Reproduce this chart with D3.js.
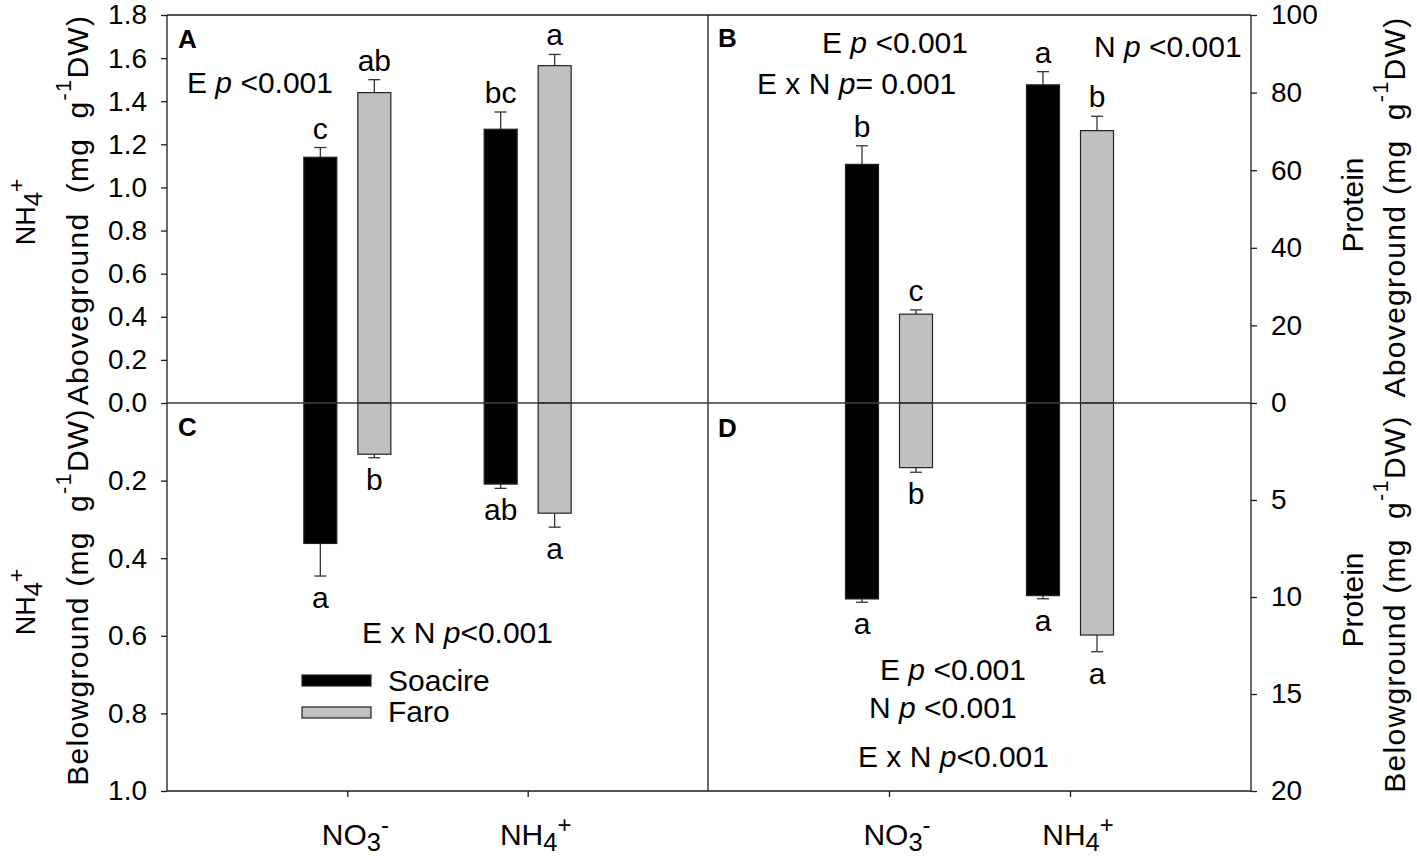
<!DOCTYPE html>
<html><head><meta charset="utf-8">
<script src="https://cdn.jsdelivr.net/npm/d3@7"></script>
<style>
body{margin:0;background:#fff}
svg{display:block;font-family:"Liberation Sans",Arial,Helvetica,sans-serif}
text{white-space:pre}
</style></head><body>
<svg id="chart" width="1417" height="856"></svg>
<script>
// ---------- DATA ----------
const categories = ["NO3-", "NH4+"];
const series = ["Soacire", "Faro"];

// Panel A: aboveground NH4+ (mg g-1 DW)
const A_Soacire = [1.14, 1.27];
const A_Faro = [1.44, 1.565];
const A_Soacire_se = [0.045, 0.08];
const A_Faro_se = [0.06, 0.052];
const A_Soacire_letters = ["c", "bc"];
const A_Faro_letters = ["ab", "a"];

// Panel C: belowground NH4+ (mg g-1 DW)
const C_Soacire = [0.362, 0.209];
const C_Faro = [0.132, 0.284];
const C_Soacire_se = [0.084, 0.011];
const C_Faro_se = [0.009, 0.036];
const C_Soacire_letters = ["a", "ab"];
const C_Faro_letters = ["b", "a"];

// Panel B: aboveground protein (mg g-1 DW)
const B_Soacire = [61.5, 82.0];
const B_Faro = [22.9, 70.2];
const B_Soacire_se = [4.8, 3.4];
const B_Faro_se = [1.1, 3.7];
const B_Soacire_letters = ["b", "a"];
const B_Faro_letters = ["c", "b"];

// Panel D: belowground protein (mg g-1 DW)
const D_Soacire = [10.1, 9.93];
const D_Faro = [3.33, 11.96];
const D_Soacire_se = [0.17, 0.16];
const D_Faro_se = [0.24, 0.86];
const D_Soacire_letters = ["a", "a"];
const D_Faro_letters = ["b", "a"];

// Tick values
const leftTopTicks = [0.0, 0.2, 0.4, 0.6, 0.8, 1.0, 1.2, 1.4, 1.6, 1.8];
const leftBottomTicks = [0.2, 0.4, 0.6, 0.8, 1.0];
const rightTopTicks = [0, 20, 40, 60, 80, 100];
const rightBottomTicks = [5, 10, 15, 20];

// ---------- LAYOUT ----------
const svg = d3.select("#chart");
const X0 = 167, XM = 708, X1 = 1251;
const Y0 = 15, YZ = 403, Y1 = 791;
const INK = "#1a1a1a";
const GRAY = "#c0c0c0";
const colors = {Soacire: "#000000", Faro: GRAY};

const yLT = d3.scaleLinear().domain([0, 1.8]).range([YZ, Y0]);
const yLB = d3.scaleLinear().domain([0, 1.0]).range([YZ, Y1]);
const yRT = d3.scaleLinear().domain([0, 100]).range([YZ, Y0]);
const yRB = d3.scaleLinear().domain([0, 20]).range([YZ, Y1]);

const xL = d3.scalePoint().domain(categories).range([X0, XM]).padding(1);
const xR = d3.scalePoint().domain(categories).range([XM, X1]).padding(1);
const xSeries = d3.scaleBand().domain(series).range([-43.5, 43.5]).paddingInner(0.389).paddingOuter(0);

const panels = [
  {x: xL, y: yLT, dir: -1, vals: {Soacire: A_Soacire, Faro: A_Faro}, se: {Soacire: A_Soacire_se, Faro: A_Faro_se}, letters: {Soacire: A_Soacire_letters, Faro: A_Faro_letters}},
  {x: xL, y: yLB, dir: 1, vals: {Soacire: C_Soacire, Faro: C_Faro}, se: {Soacire: C_Soacire_se, Faro: C_Faro_se}, letters: {Soacire: C_Soacire_letters, Faro: C_Faro_letters}},
  {x: xR, y: yRT, dir: -1, vals: {Soacire: B_Soacire, Faro: B_Faro}, se: {Soacire: B_Soacire_se, Faro: B_Faro_se}, letters: {Soacire: B_Soacire_letters, Faro: B_Faro_letters}},
  {x: xR, y: yRB, dir: 1, vals: {Soacire: D_Soacire, Faro: D_Faro}, se: {Soacire: D_Soacire_se, Faro: D_Faro_se}, letters: {Soacire: D_Soacire_letters, Faro: D_Faro_letters}}
];

// ---------- rich text helper ----------
function rich(sel, parts, size, supShift, subShift) {
  let shift = 0;
  parts.forEach(p => {
    const ts = sel.append("tspan").text(p.t);
    let target = 0, fs = size;
    if (p.sub) { target = size * (subShift || 0.2); fs = size * (p.s || 0.85); }
    if (p.sup) { target = -size * (supShift || 0.45); fs = size * (p.s || 0.72); }
    const dy = target - shift;
    if (dy !== 0) ts.attr("dy", dy);
    shift = target;
    ts.attr("font-size", fs);
    if (p.i) ts.attr("font-style", "italic");
  });
}

// ---------- BARS ----------
const gBars = svg.append("g");
panels.forEach(P => {
  series.forEach(s => {
    categories.forEach((c, i) => {
      const v = P.vals[s][i], e = P.se[s][i];
      const cx = P.x(c) + xSeries(s) + xSeries.bandwidth() / 2;
      const x = P.x(c) + xSeries(s);
      const yv = P.y(v), y0 = P.y(0), ye = P.y(v + e);
      gBars.append("line").attr("x1", cx).attr("x2", cx).attr("y1", yv).attr("y2", ye)
        .attr("stroke", "#333").attr("stroke-width", 1.3);
      gBars.append("line").attr("x1", cx - 6).attr("x2", cx + 6).attr("y1", ye).attr("y2", ye)
        .attr("stroke", "#333").attr("stroke-width", 1.3);
      gBars.append("rect")
        .attr("x", x).attr("width", xSeries.bandwidth())
        .attr("y", Math.min(yv, y0)).attr("height", Math.abs(yv - y0))
        .attr("fill", colors[s]).attr("stroke", "#222").attr("stroke-width", 1.2);
      const ly = P.dir < 0 ? ye - 9 : ye + 32;
      svg.append("text").attr("x", cx).attr("y", ly).attr("text-anchor", "middle")
        .attr("font-size", 30).attr("fill", "#000").text(P.letters[s][i]);
    });
  });
});

// ---------- FRAMES ----------
const gF = svg.append("g").attr("stroke", INK).attr("stroke-width", 1.3);
gF.append("line").attr("x1", X0).attr("x2", X1).attr("y1", Y0).attr("y2", Y0);
gF.append("line").attr("x1", X0).attr("x2", X1).attr("y1", Y1).attr("y2", Y1);
gF.append("line").attr("x1", X0).attr("x2", X0).attr("y1", Y0).attr("y2", Y1);
gF.append("line").attr("x1", XM).attr("x2", XM).attr("y1", Y0).attr("y2", Y1);
gF.append("line").attr("x1", X1).attr("x2", X1).attr("y1", Y0).attr("y2", Y1);
gF.append("line").attr("x1", X0).attr("x2", X1).attr("y1", YZ).attr("y2", YZ).attr("stroke", "#3a3a3a");

// ---------- AXES ----------
function styleAxis(g) {
  g.select(".domain").remove();
  g.selectAll(".tick line").attr("stroke", INK).attr("stroke-width", 1.3);
  g.selectAll(".tick text").attr("font-size", 28).attr("fill", "#000").attr("font-family", null);
  g.attr("font-family", null).attr("font-size", null);
}
svg.append("g").attr("transform", `translate(${X0},0)`)
  .call(d3.axisLeft(yLT).tickValues(leftTopTicks).tickFormat(d3.format(".1f")).tickSize(6).tickPadding(14)).call(styleAxis);
svg.append("g").attr("transform", `translate(${X0},0)`)
  .call(d3.axisLeft(yLB).tickValues(leftBottomTicks).tickFormat(d3.format(".1f")).tickSize(6).tickPadding(14)).call(styleAxis);
svg.append("g").attr("transform", `translate(${X1},0)`)
  .call(d3.axisRight(yRT).tickValues(rightTopTicks).tickFormat(d3.format("d")).tickSize(6).tickPadding(14)).call(styleAxis);
svg.append("g").attr("transform", `translate(${X1},0)`)
  .call(d3.axisRight(yRB).tickValues(rightBottomTicks).tickFormat(d3.format("d")).tickSize(6).tickPadding(14)).call(styleAxis);

[xL, xR].forEach(xs => {
  svg.append("g").attr("transform", `translate(0,${Y1})`)
    .call(d3.axisBottom(xs).tickSize(6).tickFormat(""))
    .call(styleAxis);
});

const catParts = {
  "NO3-": [{t: "NO"}, {t: "3", sub: true}, {t: "-", sup: true, s: 0.8}],
  "NH4+": [{t: "NH"}, {t: "4", sub: true}, {t: "+", sup: true, s: 0.8}]
};
[xL, xR].forEach(xs => {
  categories.forEach(c => {
    const t = svg.append("text").attr("x", xs(c) + 8).attr("y", 845).attr("text-anchor", "middle").attr("fill", "#000");
    rich(t, catParts[c], 30, 0.4, 0.2);
  });
});

// ---------- AXIS TITLES ----------
function vtitle(x, y, parts, size, supShift, ls) {
  const t = svg.append("text").attr("transform", `translate(${x},${y}) rotate(-90)`)
    .attr("text-anchor", "middle").attr("fill", "#000");
  if (ls) t.attr("letter-spacing", ls);
  rich(t, parts, size, supShift, 0.25);
}
const nh4 = [{t: "NH"}, {t: "4", sub: true, s: 0.95}, {t: "+", sup: true, s: 0.85}];
vtitle(35, 212, nh4, 27, 0.4);
vtitle(35, 602, nh4, 27, 0.4);
vtitle(88, 210, [{t: "Aboveground  (mg  g"}, {t: "-1", sup: true}, {t: "DW)"}], 30, 0.58, 1.3);
vtitle(88, 597, [{t: "Belowground (mg  g"}, {t: "-1", sup: true}, {t: "DW)"}], 30, 0.58, 1.3);
vtitle(1363, 205, [{t: "Protein"}], 30);
vtitle(1363, 600, [{t: "Protein"}], 30);
vtitle(1405, 207, [{t: "Aboveground (mg  g"}, {t: "-1", sup: true}, {t: "DW)"}], 30, 0.58, 1.3);
vtitle(1405, 604, [{t: "Belowground (mg  g"}, {t: "-1", sup: true}, {t: "DW)"}], 30, 0.58, 1.3);

// ---------- ANNOTATIONS ----------
function note(x, y, parts) {
  const t = svg.append("text").attr("x", x).attr("y", y).attr("fill", "#000");
  rich(t, parts, 30);
}
function tag(x, y, s) {
  svg.append("text").attr("x", x).attr("y", y).attr("font-size", 26).attr("font-weight", "bold").attr("fill", "#000").text(s);
}
const Ep = [{t: "E "}, {t: "p", i: true}, {t: " <0.001"}];
const Np = [{t: "N "}, {t: "p", i: true}, {t: " <0.001"}];
const ExN = [{t: "E x N "}, {t: "p", i: true}, {t: "<0.001"}];
const ExNeq = [{t: "E x N "}, {t: "p", i: true}, {t: "= 0.001"}];

tag(178, 48, "A");
note(187, 93, Ep);
tag(718, 47, "B");
note(822, 53, Ep);
note(757, 94, ExNeq);
note(1094, 57, Np);
tag(178, 436, "C");
note(362, 643, ExN);
tag(718, 437, "D");
note(880, 680, Ep);
note(869, 718, Np);
note(858, 767, ExN);

// ---------- LEGEND ----------
series.forEach((s, i) => {
  svg.append("rect").attr("x", 302).attr("y", 675 + i * 32).attr("width", 69).attr("height", 11)
    .attr("fill", colors[s]).attr("stroke", "#222").attr("stroke-width", 1.2);
  svg.append("text").attr("x", 388).attr("y", 691 + i * 31).attr("font-size", 30).attr("fill", "#000").text(s);
});
</script>
</body></html>
